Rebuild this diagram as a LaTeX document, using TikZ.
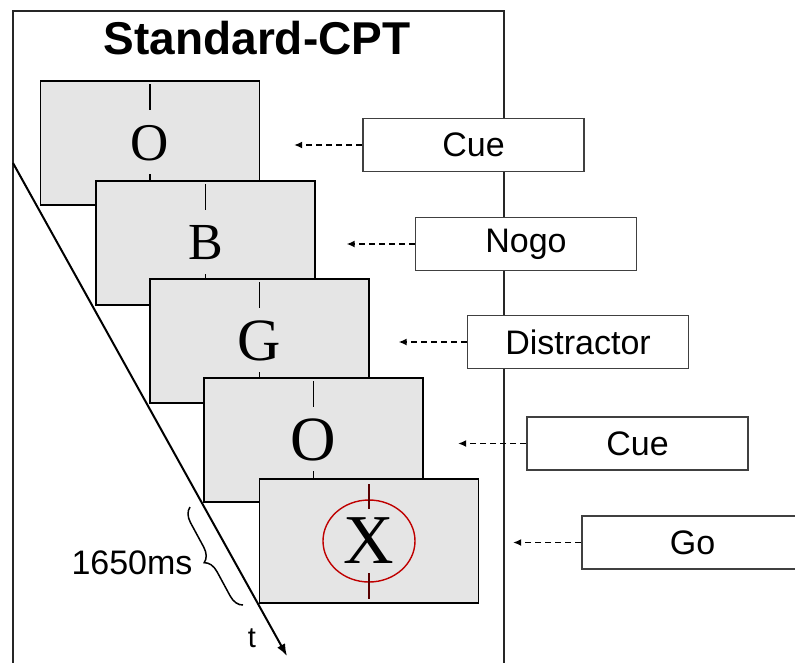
\documentclass[tikz,border=0pt]{standalone}
\usepackage{fontspec}
\setmainfont{Liberation Sans}
\newfontfamily\letterfont{Liberation Serif}
\usepackage{tikz}
\usetikzlibrary{positioning,arrows.meta,decorations.pathreplacing,shapes}
\tikzset{
  screen/.style={
    rectangle, draw=black, fill=gray!20,
    line width=1.9pt,
    minimum width=219pt,
    minimum height=124pt,
    inner sep=0pt
  },
  % Etichette a destra e frecce tratteggiate
  labelbox/.style={
    rectangle, draw=black!75, fill=white,
    line width=1.8pt,
    minimum width=221pt,
    minimum height=53pt,
    inner sep=0pt,
    font=\fontsize{34}{36}\selectfont
  },
  pointer/.style={-{Latex[length=8pt,width=7pt]}, line width=1.8pt, dash pattern=on 6pt off 4pt},
  fixation/.style={line width=1.9pt},
  timeline/.style={-{Latex[length=12pt,width=9pt]}, line width=2pt},
  frame/.style={line width=2pt, draw=black!85},
  every node/.style={anchor=center}
}

\begin{document}
\begin{tikzpicture}[x=1pt, y=-1pt]

\clip (0,0) rectangle (795,662);

% Cornice e titolo
\draw[frame] (13,680) -- (13,11) -- (504,11) -- (504,680);
\node[font=\bfseries\fontsize{46}{48}\selectfont] (title) at (257,38) {Standard-CPT};

% Asse del tempo
\coordinate (tstart) at (13,163);
\coordinate (tend) at (287,656);
\draw[timeline] (tstart) -- (tend);

% Schermate in sequenza
\node[screen, font=\letterfont\fontsize{53}{53}\selectfont] (scr1) at (150,143) {O};
\draw[fixation] (scr1.north) ++(0,4) -- ++(0,26);
\draw[fixation] (scr1.south) ++(0,-4) -- ++(0,-28);

\node[screen, font=\letterfont\fontsize{52}{52}\selectfont] (scr2) at (205.5,243) {B};
\draw[fixation] (scr2.north) ++(0,4) -- ++(0,26);
\draw[fixation] (scr2.south) ++(0,-4) -- ++(0,-28);

\node[screen, font=\letterfont\fontsize{60}{60}\selectfont] (scr3) at (259.5,341) {G};
\draw[fixation] (scr3.north) ++(0,4) -- ++(0,26);
\draw[fixation] (scr3.south) ++(0,-4) -- ++(0,-28);

\node[screen, font=\letterfont\fontsize{63}{63}\selectfont] (scr4) at (313.5,440) {O};
\draw[fixation] (scr4.north) ++(0,4) -- ++(0,26);
\draw[fixation] (scr4.south) ++(0,-4) -- ++(0,-28);

\node[screen, font=\letterfont\fontsize{70}{70}\selectfont] (scr5) at (369,541) {X};
\draw[red!75!black, line width=1.4pt] (scr5.center) ellipse [x radius=46pt, y radius=41pt];
\draw[fixation, draw=red!35!black] (scr5.north) ++(0,6) -- ++(0,25);
\draw[fixation, draw=red!35!black] (scr5.south) ++(0,-5) -- ++(0,-26);

% Durata di una schermata
\coordinate (bracelow) at (243,605);
\coordinate (bracehigh) at (190,507);
\draw[line width=1.5pt, decorate, decoration={brace, amplitude=14pt}] (bracelow) -- (bracehigh);
\node[font=\fontsize{34}{36}\selectfont] (duration) at (132,563) {1650ms};
\node[font=\fontsize{29}{30}\selectfont] (tlabel) at (252,638) {t};

% Etichette degli stimoli
\node[labelbox] (cue1) at (473.5,145) {Cue};
\node[labelbox] (nogo) at (526,244) {Nogo};
\node[labelbox] (distractor) at (578,342) {Distractor};
\node[labelbox] (cue2) at (637.5,443.5) {Cue};
\node[labelbox] (go) at (692.5,542.5) {Go};

\coordinate[left=68pt of cue1] (pcue1);
\coordinate[left=68pt of nogo] (pnogo);
\coordinate[left=68pt of distractor] (pdistractor);
\coordinate[left=68pt of cue2] (pcue2);
\coordinate[left=68pt of go] (pgo);

\draw[pointer] (cue1) -- (pcue1);
\draw[pointer] (nogo) -- (pnogo);
\draw[pointer] (distractor) -- (pdistractor);
\draw[pointer] (cue2) -- (pcue2);
\draw[pointer] (go) -- (pgo);

\end{tikzpicture}
\end{document}
